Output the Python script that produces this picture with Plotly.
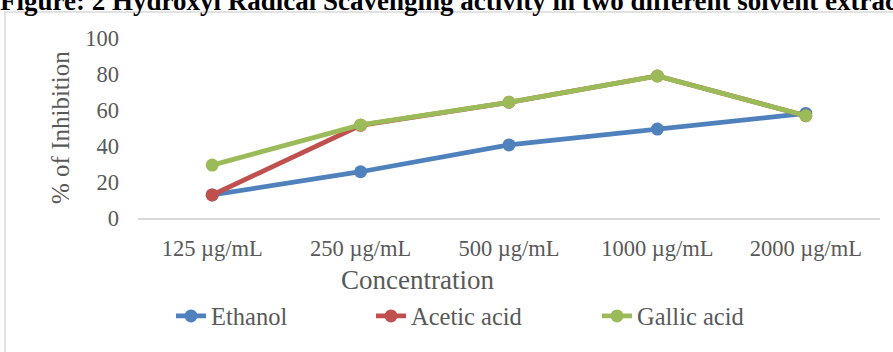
import plotly.graph_objects as go

categories = ["125 µg/mL", "250 µg/mL", "500 µg/mL", "1000 µg/mL", "2000 µg/mL"]
ethanol = [12.8, 25.7, 40.6, 49.4, 58.1]
acetic_acid = [12.8, 51.5, 64.3, 78.9, 56.8]
gallic_acid = [29.4, 51.7, 64.3, 78.9, 56.8]

series_names = ["Ethanol", "Acetic acid", "Gallic acid"]
series_colors = ["#4f81bd", "#c0504d", "#9bbb59"]
legend_text_left = [212, 412, 638]

title_text = "Figure: 2 Hydroxyl Radical Scavenging activity in two different solvent extracts"

W, H = 893, 352
L, R, T, B = 138, 13, 38, 134
FONT = "Liberation Serif, Times New Roman, serif"
GRAY = "#595959"


def px_x(p):
    return (p - L) / (W - L - R)


def px_y(p):
    return (H - B - p) / (H - T - B)


fig = go.Figure()
legend_keys = ["legend", "legend2", "legend3"]
for name, vals, col, lk in zip(series_names, [ethanol, acetic_acid, gallic_acid], series_colors, legend_keys):
    fig.add_trace(go.Scatter(
        x=categories, y=vals, name=name, mode="lines+markers",
        line=dict(color=col, width=4.8),
        marker=dict(color=col, size=13),
        legend=lk,
    ))

legend_layout = {}
for lk, tl in zip(legend_keys, legend_text_left):
    legend_layout[lk] = dict(orientation="h", x=px_x(tl - 41), y=px_y(316),
                             xanchor="left", yanchor="middle",
                             font=dict(family=FONT, size=24.5, color=GRAY),
                             bgcolor="rgba(0,0,0,0)")

fig.update_layout(
    width=W, height=H,
    margin=dict(l=L, r=R, t=T, b=B),
    paper_bgcolor="white", plot_bgcolor="white",
    font=dict(family=FONT, size=22, color=GRAY),
    showlegend=True,
    xaxis=dict(type="category", range=[-0.5, 4.5], showgrid=False, showline=True,
               linecolor="#d9d9d9", linewidth=1.5, ticks="", zeroline=False,
               tickfont=dict(family=FONT, size=22.5, color=GRAY), ticklabelstandoff=9),
    yaxis=dict(range=[0, 100], dtick=20, showgrid=False, showline=False, zeroline=False,
               ticks="", tickfont=dict(family=FONT, size=22.5, color=GRAY), ticklabelstandoff=18),
    shapes=[dict(type="rect", xref="paper", yref="paper",
                 x0=px_x(5), x1=px_x(900), y0=px_y(360), y1=px_y(12),
                 line=dict(color="#d9d9d9", width=1.5), fillcolor="rgba(0,0,0,0)", layer="below")],
    annotations=[
        dict(text="<b>" + title_text + "</b>",
             xref="paper", yref="paper", x=px_x(-2), y=px_y(18), xanchor="left", yanchor="bottom",
             showarrow=False, font=dict(family=FONT, size=27, color="black"), align="left"),
        dict(text="% of Inhibition", xref="paper", yref="paper", x=px_x(60), y=px_y(128),
             xanchor="center", yanchor="middle", textangle=-90, showarrow=False,
             font=dict(family=FONT, size=25, color=GRAY)),
        dict(text="Concentration", xref="paper", yref="paper", x=px_x(417), y=px_y(280),
             xanchor="center", yanchor="middle", showarrow=False,
             font=dict(family=FONT, size=27, color=GRAY)),
    ],
    **legend_layout,
)

fig.write_html("out.html")
